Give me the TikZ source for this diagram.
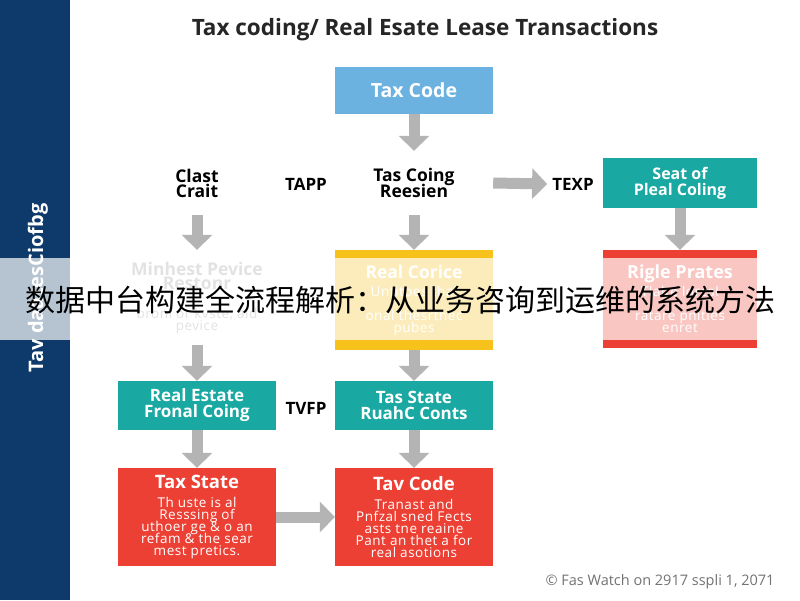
\documentclass[tikz,border=0pt]{standalone}
\usepackage{fontspec}
\setmainfont{Open Sans}
\newfontfamily\cjk{Noto Sans CJK SC}
\usetikzlibrary{arrows.meta}
\definecolor{navy}{HTML}{0D3A6B}
\definecolor{boxblue}{HTML}{6CB2E0}
\definecolor{boxteal}{HTML}{1AA8A2}
\definecolor{boxred}{HTML}{EC4034}
\definecolor{boxyellow}{HTML}{F7C21C}
\definecolor{arrowgray}{HTML}{B4B4B4}
\definecolor{softgray}{HTML}{8A8A8A}
\newcommand{\bodyfont}{\fontsize{13.5}{12}\selectfont\mdseries\addfontfeature{LetterSpace=4}}
\tikzset{
  box/.style={rectangle, minimum width=158pt, inner sep=2pt, align=center, text=white, font=\bfseries},
  plain/.style={rectangle, minimum width=158pt, minimum height=64pt, inner sep=2pt, align=center, text=black, font=\fontsize{17.5}{17}\selectfont\bfseries},
  lbl/.style={inner sep=3pt, text=black, font=\fontsize{17}{17}\selectfont\bfseries},
  garrow/.style={draw=arrowgray, line width=11pt, -{Triangle[length=15pt,width=30pt]}},
}
\begin{document}
\begin{tikzpicture}[x=1pt,y=-1pt]
\useasboundingbox (0,0) rectangle (800,600);
\fill[white] (0,0) rectangle (800,600);
% left bar
\fill[navy] (0,0) rectangle (70,600);
\node[rotate=90, text=white, font=\fontsize{20}{20}\selectfont\bfseries] (side) at (38,288) {Tav daatesCiofbg};
% title
\node[font=\fontsize{22.5}{22}\selectfont\bfseries, text=black!85] (title) at (425,30) {Tax coding/ Real Esate Lease Transactions};
% top
\node[box, fill=boxblue, minimum height=47pt, font=\fontsize{19.5}{19}\selectfont\bfseries] (taxcode) at (414,90.5) {Tax Code};
\node[plain] (tcr) at (414,183) {Tas Coing\\[-2pt]Reesien};
\node[plain] (clast) at (197,183) {Clast\\[-2pt]Crait};
\node[lbl] (tapp) at (306,184) {TAPP};
\node[lbl] (texp) at (573,184) {TEXP};
\node[box, fill=boxteal, minimum width=154pt, minimum height=50pt, font=\fontsize{16}{16}\selectfont\bfseries] (seat) at (680,183) {Seat of\\Pleal Coling};
% middle row
\node[rectangle, minimum width=158pt, minimum height=95pt, align=center, text=softgray!80, font=\fontsize{17.5}{15}\selectfont\bfseries] (minh) at (197,297.5) {Minhest Pevice\\[-1pt]Restonr\\[14pt]{\bodyfont broni or kvste, ald}\\[-3pt]{\bodyfont pevice}};
\node[box, fill=boxyellow, minimum height=100pt, font=\fontsize{17.5}{15}\selectfont\bfseries] (realc) at (414,300) {Real Corice\\[3pt]{\bodyfont Untitoes thal}\\[9pt]{\bodyfont onal thesrtnec}\\[-3pt]{\bodyfont pubes}};
\node[box, fill=boxred, minimum width=154pt, minimum height=98pt, font=\fontsize{18}{15}\selectfont\bfseries] (rigle) at (680,299) {Rigle Prates\\[3pt]{\bodyfont Tlalte lorcal}\\[9pt]{\bodyfont ratare pnitles}\\[-3pt]{\bodyfont enret}};
% teal row
\node[box, fill=boxteal, minimum height=49pt, font=\fontsize{17}{16}\selectfont\bfseries] (rest) at (197,405.5) {Real Estate\\Fronal Coing};
\node[lbl] (tvfp) at (306,408) {TVFP};
\node[box, fill=boxteal, minimum height=49pt, font=\fontsize{17}{16}\selectfont\bfseries] (tstate) at (414,405.5) {Tas State\\RuahC Conts};
% red row
\node[box, fill=boxred, minimum height=98pt, font=\fontsize{18.5}{15}\selectfont\bfseries] (taxstate) at (197,517) {Tax State\\[4pt]{\bodyfont Th uste is al}\\[-3pt]{\bodyfont Resssing of}\\[-3pt]{\bodyfont uthoer ge \& o an}\\[-3pt]{\bodyfont refam \& the sear}\\[-3pt]{\bodyfont mest pretics.}};
\node[box, fill=boxred, minimum height=98pt, font=\fontsize{18.5}{15}\selectfont\bfseries] (tavcode) at (414,517) {Tav Code\\[4pt]{\bodyfont Tranast and}\\[-3pt]{\bodyfont Pnfzal sned Fects}\\[-3pt]{\bodyfont asts tne reaine}\\[-3pt]{\bodyfont Pant an thet a for}\\[-3pt]{\bodyfont real asotions}};
% arrows
\draw[garrow] (taxcode.south) -- (tcr.north);
\draw[garrow] (tcr.south) -- (realc.north);
\draw[garrow] (clast.south) -- (minh.north);
\draw[garrow, shorten >=2pt] (tcr.east) -- (texp.west);
\draw[garrow] (seat.south) -- (rigle.north);
\draw[garrow] (minh.south) -- (rest.north);
\draw[garrow] (realc.south) -- (tstate.north);
\draw[garrow] (rest.south) -- (taxstate.north);
\draw[garrow] (tstate.south) -- (tavcode.north);
\draw[garrow] (taxstate.east) -- (tavcode.west);
% footer
\node[anchor=east, text=black!55, font=\fontsize{14.5}{14}\selectfont] (foot) at (778,582) {\textcopyright\ Fas Watch on 2917 sspli 1, 2071};
% overlay banner
\fill[white, opacity=0.7] (0,258) rectangle (800,340);
\node[font=\cjk\fontsize{30}{30}\selectfont, text=black, inner sep=0pt] (banner) at (400,300) {数据中台构建全流程解析：从业务咨询到运维的系统方法};
\end{tikzpicture}
\end{document}
